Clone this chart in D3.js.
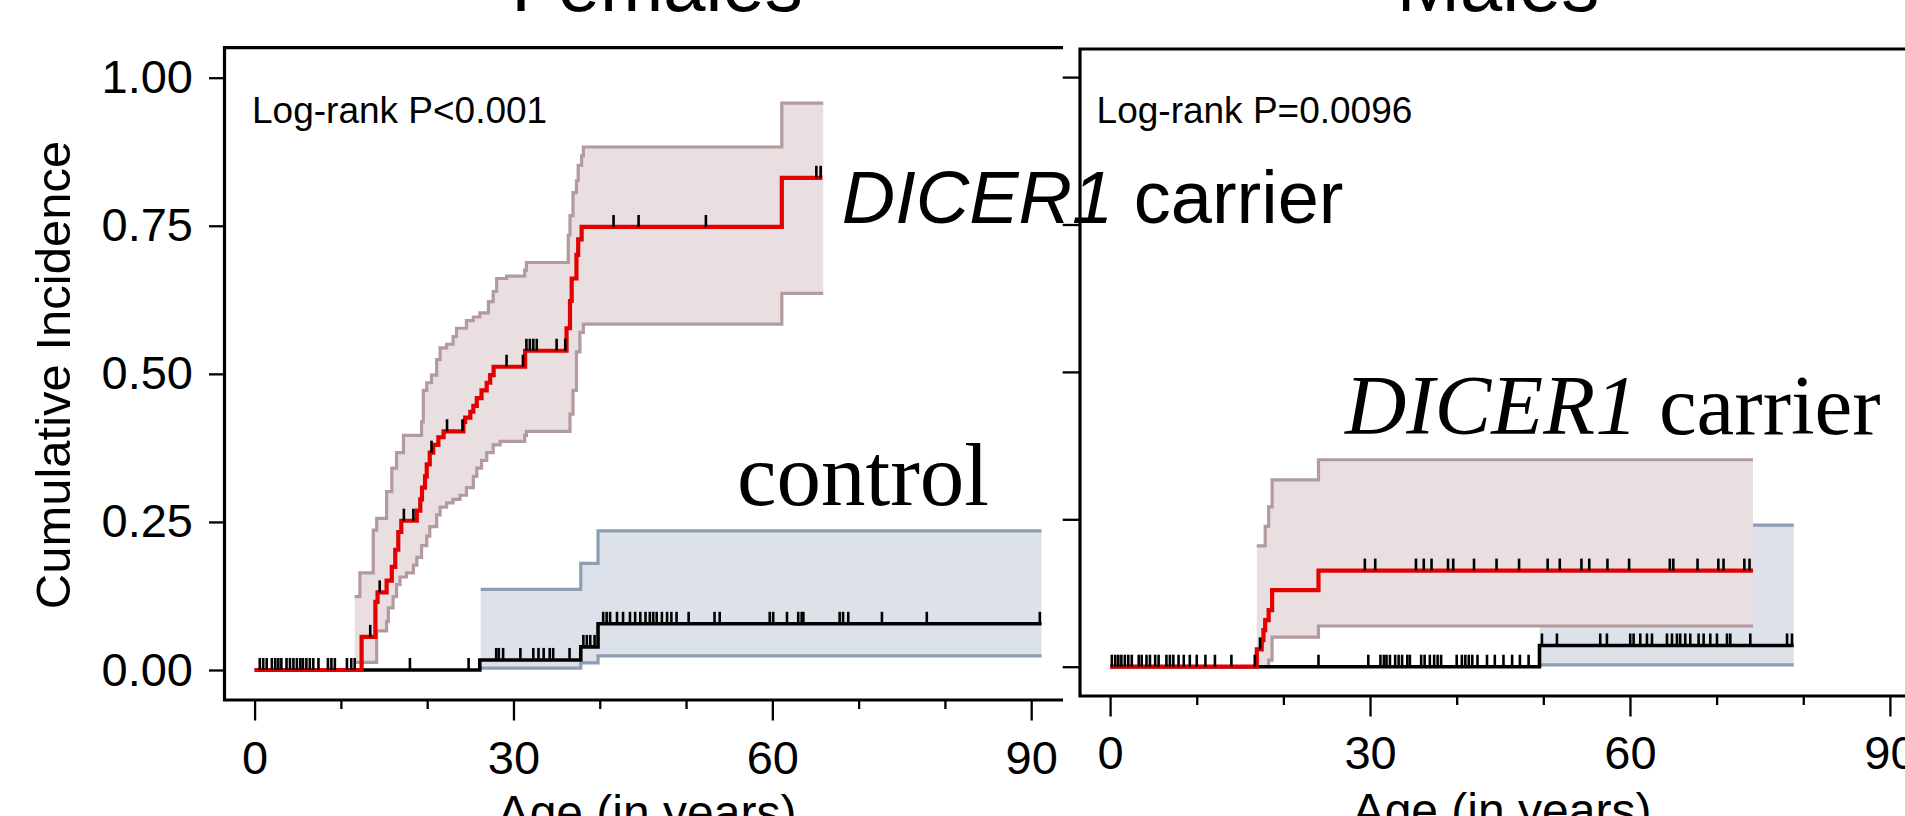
<!DOCTYPE html>
<html lang="en">
<head>
<meta charset="UTF-8">
<title>Cumulative incidence, DICER1 carriers vs controls</title>
<style>
  body { margin: 0; background: #fff; }
  svg { display: block; }
  text { font-family: "Liberation Sans", Arial, sans-serif; fill: #000; }
  text.serif { font-family: "Liberation Serif", "Times New Roman", serif; }
</style>
</head>
<body>
<div id="chart"></div>
<script src="https://d3js.org/d3.v7.min.js"></script>
<script>
// ---- data: step points [age, cumulative incidence] ----
const femCarrier = [[0,0],[12.4,0.056],[14.0,0.115],[14.25,0.131],[15.3,0.151],[15.9,0.174],[16.3,0.203],[16.65,0.233],
  [17.0,0.252],[18.8,0.269],[19.2,0.288],[19.4,0.308],[19.75,0.327],[19.95,0.347],[20.3,0.367],[20.7,0.380],[21.3,0.393],
  [21.9,0.403],[24.2,0.419],[24.4,0.426],[25.0,0.436],[25.35,0.446],[25.75,0.459],[26.3,0.472],[26.9,0.485],[27.3,0.498],
  [27.7,0.512],[31.35,0.539],[36.15,0.577],[36.55,0.623],[36.75,0.661],[37.3,0.701],[37.5,0.727],[37.9,0.748],[61.1,0.831]];
const femCarrierEnd = 65.8;
const femCarrierUpper = [[11.6,0.124],[12.2,0.164],[13.75,0.236],[14.15,0.256],[15.3,0.301],[15.9,0.341],[16.45,0.367],
  [17.25,0.396],[19.35,0.419],[19.55,0.472],[19.95,0.485],[20.5,0.498],[21.1,0.524],[21.5,0.544],[22.25,0.550],[23.0,0.563],
  [23.4,0.577],[24.55,0.590],[25.35,0.596],[26.1,0.603],[27.1,0.622],[27.65,0.639],[28.05,0.661],[29.2,0.665],[31.3,0.675],
  [31.5,0.688],[36.35,0.734],[36.55,0.767],[36.9,0.806],[37.3,0.826],[37.5,0.852],[37.9,0.868],[38.1,0.883],[61.1,0.957]];
const femCarrierLower = [[11.6,0.013],[14.15,0.066],[15.3,0.082],[15.5,0.105],[16.05,0.124],[16.45,0.144],[16.85,0.157],
  [17.6,0.164],[18.4,0.177],[18.8,0.190],[19.35,0.210],[19.95,0.226],[20.3,0.242],[21.1,0.262],[21.5,0.275],[22.25,0.282],
  [23.0,0.288],[23.8,0.295],[24.55,0.308],[25.35,0.327],[25.75,0.341],[26.3,0.354],[26.9,0.367],[27.65,0.380],[28.45,0.386],
  [31.3,0.396],[31.5,0.403],[36.55,0.432],[36.9,0.472],[37.3,0.537],[37.7,0.570],[38.1,0.584],[61.1,0.636]];
const femCarrierBandEnd = 65.9;
const femCarrierCens = [0.6,1.0,1.4,2.0,2.4,2.75,3.1,3.7,4.1,4.5,4.9,5.3,5.6,6.0,6.4,6.8,7.4,8.5,8.9,9.3,10.7,11.2,11.6,
  13.4,14.5,17.3,18.4,20.5,22.3,24.1,29.2,31.1,31.5,31.9,32.3,32.7,35.0,36.0,41.6,44.5,52.3,65.1,65.6];

const femControl = [[0,0],[26.1,0.017],[37.8,0.039],[39.8,0.078]];
const femControlEnd = 91.2;
const femControlUpper = [[26.2,0.136],[37.8,0.180],[39.8,0.235]];
const femControlLower = [[26.2,0.003],[37.8,0.012],[39.8,0.024]];
const femControlCens = [18.0,24.8,28.0,28.3,28.8,30.8,32.3,32.9,33.5,34.2,34.6,36.5,38.1,38.5,38.9,39.4,40.4,40.8,41.2,
  42.0,42.7,43.5,44.1,44.7,45.3,45.8,46.2,46.6,47.2,47.8,48.3,48.9,50.3,53.3,53.9,59.7,60.1,61.7,63.0,63.4,63.6,67.8,68.2,
  68.8,72.7,77.9,91.0];

const maleCarrier = [[0,0],[16.93,0.0295],[17.5,0.045],[17.7,0.062],[17.9,0.079],[18.3,0.096],[18.7,0.130],[24.05,0.163]];
const maleCarrierEnd = 74.2;
const maleCarrierUpper = [[16.93,0.205],[17.9,0.238],[18.3,0.271],[18.7,0.317],[24.05,0.351]];
const maleCarrierLower = [[16.93,0.0],[18.3,0.011],[18.7,0.050],[24.05,0.069]];
const maleCarrierCens = [0.2,0.6,0.95,1.3,1.7,2.1,2.5,3.3,3.65,4.2,4.6,5.2,5.6,6.5,6.9,7.3,7.9,8.5,9.2,10.0,11.0,12.1,
  14.0,16.7,17.3,29.4,30.6,35.3,36.2,37.1,39.0,39.6,42.0,44.6,47.2,50.5,51.9,54.4,55.3,57.4,59.9,64.6,65.0,67.8,70.2,
  70.8,73.2,73.8];

const maleControl = [[0,0],[49.56,0.036]];
const maleControlEnd = 78.9;
const maleControlUpper = [[49.56,0.240]];
const maleControlLower = [[49.56,0.003]];
const maleControlCens = [24.05,29.8,31.2,31.6,31.9,32.3,32.9,33.3,33.7,34.3,34.6,35.9,36.3,36.9,37.4,37.8,38.2,40.0,40.6,
  41.0,41.4,41.8,42.4,43.5,44.4,45.4,46.4,47.3,48.3,49.84,51.57,56.57,57.34,60.03,60.42,61.19,61.96,62.54,64.27,64.85,
  65.42,65.8,66.38,66.96,67.92,68.5,69.27,70.04,71.2,71.58,73.89,78.13,78.7];

const xMajor = [0, 30, 60, 90];
const xMinor = [10, 20, 40, 50, 70, 80];
const yTicks = [0, 0.25, 0.5, 0.75, 1];

// ---- layout ----
const W = 1905, H = 816;
const red = "#e30000", pinkFill = "#e9dfe1", pinkEdge = "#b39a9e", blueFill = "#dde2ea", blueEdge = "#8d9db2";

const panels = [
  {
    title: "Females", titleX: 657, pval: "Log-rank P<0.001",
    xr: [254.6, 1031.2], yr: [670, 77.7],
    frame: { left: 224.5, top: 47.7, right: 1063, bottom: 700 }, yTickLen: 15.5, yLabels: true, xPad: 20,
    carrier: femCarrier, carrierEnd: femCarrierEnd, cUp: femCarrierUpper, cLo: femCarrierLower, cBandEnd: femCarrierBandEnd,
    carrierCens: femCarrierCens,
    control: femControl, controlEnd: femControlEnd, kUp: femControlUpper, kLo: femControlLower, controlCens: femControlCens,
    xLabelX: 647, xLabelY: 829, pvalPos: [-0.3, 0.924]
  },
  {
    title: "Males", titleX: 1498, pval: "Log-rank P=0.0096",
    xr: [1110.1, 1889.9], yr: [666.7, 77.1],
    frame: { left: 1080, top: 49, right: 1905, bottom: 696 }, yTickLen: 17.3, yLabels: false, xPad: 19,
    carrier: maleCarrier, carrierEnd: maleCarrierEnd, cUp: maleCarrierUpper, cLo: maleCarrierLower, cBandEnd: maleCarrierEnd,
    carrierCens: maleCarrierCens,
    control: maleControl, controlEnd: maleControlEnd, kUp: maleControlUpper, kLo: maleControlLower, controlCens: maleControlCens,
    xLabelX: 1502, xLabelY: 827, pvalPos: [-1.56, 0.922]
  }
];

const svg = d3.select("#chart").append("svg").attr("width", W).attr("height", H);

function stepAt(pts, t) {
  let v = pts[0][1];
  for (const p of pts) if (p[0] <= t) v = p[1];
  return v;
}

panels.forEach(p => {
  const x = d3.scaleLinear().domain([0, 90]).range(p.xr);
  const y = d3.scaleLinear().domain([0, 1]).range(p.yr);
  const g = svg.append("g");

  const line = d3.line().x(d => x(d[0])).y(d => y(d[1])).curve(d3.curveStepAfter);
  const area = d3.area().x(d => x(d[0])).y0(d => y(d[1])).y1(d => y(d[2])).curve(d3.curveStepAfter);

  function band(lower, upper, end, fill, edge) {
    const times = Array.from(new Set(lower.map(d => d[0]).concat(upper.map(d => d[0])))).sort((a, b) => a - b);
    times.push(end);
    const pts = times.map(t => [t, stepAt(lower, t), stepAt(upper, t)]);
    g.append("path").attr("d", area(pts)).attr("fill", fill);
    [lower, upper].forEach(b => {
      g.append("path").attr("d", line(b.concat([[end, b[b.length - 1][1]]])))
        .attr("fill", "none").attr("stroke", edge).attr("stroke-width", 3.2);
    });
  }

  band(p.kLo, p.kUp, p.controlEnd, blueFill, blueEdge);
  band(p.cLo, p.cUp, p.cBandEnd, pinkFill, pinkEdge);

  g.append("path").attr("d", line(p.control.concat([[p.controlEnd, p.control[p.control.length - 1][1]]])))
    .attr("fill", "none").attr("stroke", "#000").attr("stroke-width", 3.6);
  g.append("path").attr("d", line(p.carrier.concat([[p.carrierEnd, p.carrier[p.carrier.length - 1][1]]])))
    .attr("fill", "none").attr("stroke", red).attr("stroke-width", 4.2);

  // censoring marks
  [[p.control, p.controlCens], [p.carrier, p.carrierCens]].forEach(([curve, cens]) => {
    g.selectAll(null).data(cens).join("line")
      .attr("x1", d => x(d)).attr("x2", d => x(d))
      .attr("y1", d => y(stepAt(curve, d))).attr("y2", d => y(stepAt(curve, d)) - 12)
      .attr("stroke", "#000").attr("stroke-width", 2.6);
  });

  // frame
  const f = p.frame;
  g.append("path")
    .attr("d", `M${f.right},${f.top}H${f.left}V${f.bottom}H${f.right}`)
    .attr("fill", "none").attr("stroke", "#000").attr("stroke-width", 3.2);

  // axes
  const styleAxis = a => {
    a.select(".domain").remove();
    a.attr("font-family", null).attr("font-size", null);
    a.selectAll("line").attr("stroke-width", 2.3);
    a.selectAll("text").attr("font-size", 47);
  };
  g.append("g").attr("transform", `translate(${f.left},0)`)
    .call(d3.axisLeft(y).tickValues(yTicks).tickSize(p.yTickLen).tickPadding(16)
      .tickFormat(p.yLabels ? d3.format(".2f") : ""))
    .call(styleAxis);
  g.append("g").attr("transform", `translate(0,${f.bottom})`)
    .call(d3.axisBottom(x).tickValues(xMajor).tickSize(20.5).tickPadding(p.xPad))
    .call(styleAxis);
  g.append("g").attr("transform", `translate(0,${f.bottom})`)
    .call(d3.axisBottom(x).tickValues(xMinor).tickSize(9).tickFormat(""))
    .call(styleAxis);

  // texts
  g.append("text").attr("x", p.titleX).attr("y", 11).attr("text-anchor", "middle")
    .attr("font-size", 76).text(p.title);
  g.append("text").attr("x", x(p.pvalPos[0])).attr("y", y(p.pvalPos[1]))
    .attr("font-size", 37).attr("fill", "#111").text(p.pval);
  g.append("text").attr("x", p.xLabelX).attr("y", p.xLabelY).attr("text-anchor", "middle")
    .attr("font-size", 48).text("Age (in years)");

  p.x = x; p.y = y;
});

// y axis title
svg.append("text").attr("transform", "translate(70,375) rotate(-90)").attr("text-anchor", "middle")
  .attr("font-size", 49).text("Cumulative Incidence");

// group labels
const fL = panels[0], mL = panels[1];
const lab1 = svg.append("text").attr("x", fL.x(68.05)).attr("y", fL.y(0.755)).attr("font-size", 74);
lab1.append("tspan").attr("font-style", "italic").text("DICER1");
lab1.append("tspan").text(" carrier");

svg.append("text").attr("class", "serif").attr("x", fL.x(55.9)).attr("y", fL.y(0.279))
  .attr("font-size", 89).text("control");

const lab2 = svg.append("text").attr("class", "serif").attr("x", mL.x(27.1)).attr("y", mL.y(0.395))
  .attr("font-size", 85);
lab2.append("tspan").attr("font-style", "italic").text("DICER1");
lab2.append("tspan").text(" carrier");
</script>
</body>
</html>
